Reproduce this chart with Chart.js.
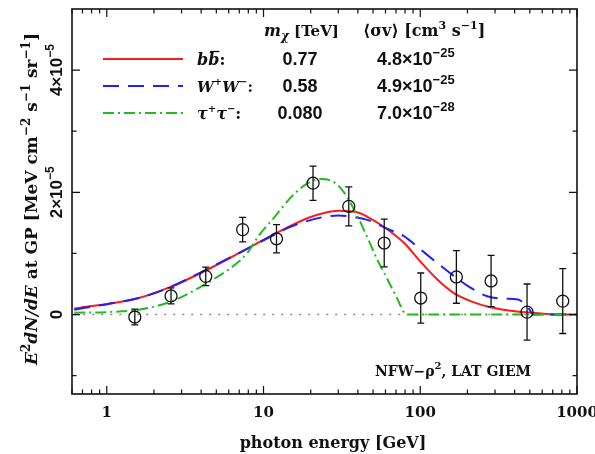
<!DOCTYPE html>
<html>
<head>
<meta charset="utf-8">
<script src="https://cdn.jsdelivr.net/npm/chart.js@4.4.1/dist/chart.umd.min.js"></script>
<style>
  html, body { margin: 0; padding: 0; background: #fff; }
  #wrap { width: 595px; height: 454px; position: relative; }
</style>
</head>
<body>
<div id="wrap"><canvas id="specChart"></canvas></div>
<script>
/* ── data (y in units of 1e-5 MeV cm^-2 s^-1 sr^-1) ── */
var dataE   = [1.51, 2.57, 4.28, 7.36, 12.1, 20.7, 35.0, 58.9, 100.7, 170, 283, 480, 811];
var dataY   = [-0.04, 0.305, 0.625, 1.39, 1.24, 2.15, 1.77, 1.17, 0.27, 0.615, 0.55, 0.04, 0.22];
var dataErr = [0.13, 0.13, 0.15, 0.20, 0.23, 0.28, 0.32, 0.39, 0.41, 0.43, 0.42, 0.46, 0.53];

// b bbar, m = 0.77 TeV
var bbE = [0.62, 0.8, 1.0, 1.6, 2.6, 4.2, 6.9, 11.8, 19.2, 25, 30, 40, 46, 56, 65, 79, 100, 129, 164, 209, 280, 414, 611, 770, 1000];
var bbY = [0.10, 0.14, 0.17, 0.27, 0.46, 0.71, 1.00, 1.32, 1.58, 1.67, 1.70, 1.67, 1.60, 1.47, 1.35, 1.17, 0.87, 0.57, 0.35, 0.22, 0.12, 0.05, 0.015, 0, 0];
// W+W-, m = 0.58 TeV
var wwE = [0.62, 1.0, 1.6, 2.6, 4.2, 6.9, 11.8, 15, 24.5, 30, 37, 46, 62, 79, 101, 129, 164, 209, 267, 340, 420, 456, 495, 528, 1000];
var wwY = [0.08, 0.17, 0.27, 0.46, 0.72, 1.00, 1.31, 1.44, 1.60, 1.62, 1.60, 1.55, 1.40, 1.28, 1.06, 0.84, 0.63, 0.44, 0.30, 0.26, 0.245, 0.19, 0.09, 0, 0];
// tau+tau-, m = 0.080 TeV
var ttE = [0.62, 1.0, 1.6, 2.6, 4.2, 6.9, 8.0, 9.26, 11.8, 15.1, 19.2, 23.4, 28.4, 32.8, 39.9, 46.2, 53.6, 62, 71.6, 79, 83, 1000];
var ttY = [0.03, 0.04, 0.08, 0.22, 0.49, 0.86, 1.03, 1.28, 1.60, 1.93, 2.15, 2.22, 2.16, 1.99, 1.60, 1.25, 0.88, 0.57, 0.25, 0.03, 0, 0];

var zeroE = [0.62, 1000];
var zeroY = [0, 0];

/* ── ticks ── */
var xMajor   = [1, 10, 100, 1000];
var xLabels  = ['1', '10', '100', '1000'];
var yMajor   = [0, 2, 4];
var yMinor   = [-1, 1, 3];
var yTickBase = ['0', '2\u00d710', '4\u00d710'];
var yTickExp  = ['', '\u22125', '\u22125'];

/* ── legend table ── */
var legMass  = ['0.77', '0.58', '0.080'];
var legSigma = ['4.8\u00d710', '4.9\u00d710', '7.0\u00d710'];
var legSigExp = ['\u221225', '\u221225', '\u221228'];

var RED = '#ff1a1a', BLUE = '#1f1fff', GREEN = '#22bb22';
var DASH_W = [16, 9], DASH_T = [11, 4, 2, 4];

function pts(xs, ys) {
  return xs.map(function(x, i) { return { x: x, y: ys[i] }; });
}

var SERIF = '"DejaVu Serif", serif';
var SANS = '"Liberation Sans", Arial, sans-serif';
function fSerif(sz)  { return 'bold ' + sz + 'px ' + SERIF; }
function fSerifI(sz) { return 'italic bold ' + sz + 'px ' + SERIF; }
function fSans(sz)   { return 'bold ' + sz + 'px ' + SANS; }

/* ── rich text: parts = [{t, f, dy, over}] ── */
function drawRich(ctx, parts, x, y, align) {
  var w = 0;
  parts.forEach(function(p) { ctx.font = p.f; w += ctx.measureText(p.t).width; });
  var cx = align === 'center' ? x - w / 2 : (align === 'right' ? x - w : x);
  parts.forEach(function(p) {
    ctx.font = p.f;
    var pw = ctx.measureText(p.t).width;
    ctx.fillText(p.t, cx, y + (p.dy || 0));
    if (p.over) {
      ctx.beginPath();
      ctx.lineWidth = 1.3;
      ctx.moveTo(cx + 2, y - 13.5); ctx.lineTo(cx + pw, y - 13.5);
      ctx.stroke();
    }
    cx += pw;
  });
  return w;
}

function logMinors(min, max) {
  var out = [];
  for (var d = -1; d <= 3; d++) {
    for (var k = 2; k <= 9; k++) {
      var v = k * Math.pow(10, d);
      if (v > min && v < max) out.push(v);
    }
  }
  return out;
}

/* ── frame, ticks, labels, legend, error bars ── */
var framePlugin = {
  id: 'frame',
  afterDatasetsDraw: function(chart) {
    var ctx = chart.ctx, a = chart.chartArea;
    var xs = chart.scales.x, ys = chart.scales.y;
    ctx.save();
    ctx.fillStyle = '#111';
    ctx.strokeStyle = '#111';
    ctx.textAlign = 'left';
    ctx.textBaseline = 'alphabetic';

    // error bars
    ctx.lineWidth = 1.3;
    dataE.forEach(function(e, i) {
      var px = xs.getPixelForValue(e);
      var y1 = ys.getPixelForValue(dataY[i] + dataErr[i]);
      var y2 = ys.getPixelForValue(dataY[i] - dataErr[i]);
      ctx.beginPath();
      ctx.moveTo(px, y1); ctx.lineTo(px, y2);
      ctx.moveTo(px - 3.5, y1); ctx.lineTo(px + 3.5, y1);
      ctx.moveTo(px - 3.5, y2); ctx.lineTo(px + 3.5, y2);
      ctx.stroke();
    });

    // box
    ctx.lineWidth = 1.6;
    ctx.strokeRect(a.left, a.top, a.right - a.left, a.bottom - a.top);

    // x ticks (bottom + top, inward)
    ctx.lineWidth = 1.2;
    ctx.beginPath();
    xMajor.forEach(function(v) {
      var px = xs.getPixelForValue(v);
      ctx.moveTo(px, a.bottom); ctx.lineTo(px, a.bottom - 8);
      ctx.moveTo(px, a.top); ctx.lineTo(px, a.top + 8);
    });
    logMinors(xs.min, xs.max).forEach(function(v) {
      var px = xs.getPixelForValue(v);
      ctx.moveTo(px, a.bottom); ctx.lineTo(px, a.bottom - 4.5);
      ctx.moveTo(px, a.top); ctx.lineTo(px, a.top + 4.5);
    });
    // y ticks (left + right, inward)
    yMajor.forEach(function(v) {
      var py = ys.getPixelForValue(v);
      ctx.moveTo(a.left, py); ctx.lineTo(a.left + 8, py);
      ctx.moveTo(a.right, py); ctx.lineTo(a.right - 8, py);
    });
    yMinor.forEach(function(v) {
      var py = ys.getPixelForValue(v);
      ctx.moveTo(a.left, py); ctx.lineTo(a.left + 4.5, py);
      ctx.moveTo(a.right, py); ctx.lineTo(a.right - 4.5, py);
    });
    ctx.stroke();

    // x tick labels
    ctx.font = fSerif(15);
    ctx.textAlign = 'center';
    xMajor.forEach(function(v, i) {
      ctx.fillText(xLabels[i], xs.getPixelForValue(v), 417);
    });
    ctx.textAlign = 'left';

    // x title
    drawRich(ctx, [{ t: 'photon energy [GeV]', f: fSerif(16) }], 333, 448, 'center');

    // y tick labels (rotated)
    yMajor.forEach(function(v, i) {
      var py = ys.getPixelForValue(v);
      ctx.save();
      ctx.translate(62, py);
      ctx.rotate(-Math.PI / 2);
      var parts = [{ t: yTickBase[i], f: fSans(17) }];
      if (yTickExp[i]) parts.push({ t: yTickExp[i], f: fSans(12), dy: -8 });
      drawRich(ctx, parts, 0, 0, 'center');
      ctx.restore();
    });

    // y title (rotated)
    ctx.save();
    ctx.translate(37, 199);
    ctx.rotate(-Math.PI / 2);
    drawRich(ctx, [
      { t: 'E', f: fSerifI(17) },
      { t: '2', f: fSerif(12), dy: -7 },
      { t: 'dN/dE', f: fSerifI(17) },
      { t: ' at GP [MeV cm', f: fSerif(17) },
      { t: '\u22122', f: fSerif(12), dy: -7 },
      { t: ' s', f: fSerif(17) },
      { t: '\u22121', f: fSerif(12), dy: -7 },
      { t: ' sr', f: fSerif(17) },
      { t: '\u22121', f: fSerif(12), dy: -7 },
      { t: ']', f: fSerif(17) }
    ], 0, 0, 'center');
    ctx.restore();

    // legend header
    drawRich(ctx, [
      { t: 'm', f: fSerifI(16) },
      { t: '\u03c7', f: fSerifI(12), dy: 4 },
      { t: ' [TeV]', f: fSerif(15) }
    ], 264, 36, 'left');
    drawRich(ctx, [
      { t: '\u27e8\u03c3v\u27e9 [cm', f: fSerif(16) },
      { t: '3', f: fSerif(11), dy: -7 },
      { t: ' s', f: fSerif(16) },
      { t: '\u22121', f: fSerif(11), dy: -7 },
      { t: ']', f: fSerif(16) }
    ], 363, 36, 'left');

    // legend rows
    var rowY = [59, 86, 113];
    var rowCol = [RED, BLUE, GREEN];
    var rowDash = [[], DASH_W, DASH_T];
    var rowLab = [
      [{ t: 'b', f: fSerifI(16) }, { t: 'b', f: fSerifI(16), over: true }, { t: ':', f: fSerif(16) }],
      [{ t: 'W', f: fSerifI(15) }, { t: '+', f: fSerif(10), dy: -7 }, { t: 'W', f: fSerifI(15) }, { t: '\u2212', f: fSerif(10), dy: -7 }, { t: ':', f: fSerif(15) }],
      [{ t: '\u03c4', f: fSerifI(16) }, { t: '+', f: fSerif(10), dy: -7 }, { t: '\u03c4', f: fSerifI(16) }, { t: '\u2212', f: fSerif(10), dy: -7 }, { t: ':', f: fSerif(16) }]
    ];
    rowY.forEach(function(y, i) {
      ctx.save();
      ctx.strokeStyle = rowCol[i];
      ctx.lineWidth = 2;
      ctx.setLineDash(rowDash[i]);
      ctx.beginPath();
      ctx.moveTo(103, y); ctx.lineTo(183, y);
      ctx.stroke();
      ctx.restore();
      drawRich(ctx, rowLab[i], 197, y + 6, 'left');
      drawRich(ctx, [{ t: legMass[i], f: fSans(18) }], 300, y + 6, 'center');
      drawRich(ctx, [{ t: legSigma[i], f: fSans(18) }, { t: legSigExp[i], f: fSans(13), dy: -8 }], 377, y + 6, 'left');
    });

    // model note
    drawRich(ctx, [
      { t: 'NFW\u2212\u03c1', f: fSerif(14) },
      { t: '2', f: fSerif(10), dy: -7 },
      { t: ', LAT GIEM', f: fSerif(14) }
    ], 453, 376, 'center');

    ctx.restore();
  }
};

/* ── chart ── */
var ctxEl = document.getElementById('specChart');
ctxEl.width = 595; ctxEl.height = 454;
new Chart(ctxEl.getContext('2d'), {
  type: 'line',
  data: {
    datasets: [{
      label: 'data',
      data: pts(dataE, dataY),
      showLine: false,
      pointRadius: 6,
      pointBorderWidth: 1.3,
      pointBorderColor: '#111',
      pointBackgroundColor: 'rgba(0,0,0,0)',
      order: 0
    }, {
      label: 'tau+tau-',
      data: pts(ttE, ttY),
      borderColor: GREEN, borderWidth: 2, borderDash: DASH_T,
      pointRadius: 0, cubicInterpolationMode: 'monotone', fill: false,
      order: 1
    }, {
      label: 'W+W-',
      data: pts(wwE, wwY),
      borderColor: BLUE, borderWidth: 2, borderDash: DASH_W,
      pointRadius: 0, cubicInterpolationMode: 'monotone', fill: false,
      order: 2
    }, {
      label: 'bbbar',
      data: pts(bbE, bbY),
      borderColor: RED, borderWidth: 2,
      pointRadius: 0, cubicInterpolationMode: 'monotone', fill: false,
      order: 3
    }, {
      label: 'zero',
      data: pts(zeroE, zeroY),
      borderColor: '#8a8a8a', borderWidth: 1.6, borderDash: [2, 7],
      pointRadius: 0, fill: false,
      order: 4
    }]
  },
  options: {
    responsive: false,
    animation: false,
    devicePixelRatio: 1,
    layout: { padding: { left: 72, top: 9, right: 18, bottom: 60 } },
    plugins: { legend: { display: false }, tooltip: { enabled: false } },
    scales: {
      x: { type: 'logarithmic', min: 0.62, max: 1000, display: false },
      y: { type: 'linear', min: -1.3, max: 5.0, display: false }
    }
  },
  plugins: [framePlugin]
});
</script>
</body>
</html>
